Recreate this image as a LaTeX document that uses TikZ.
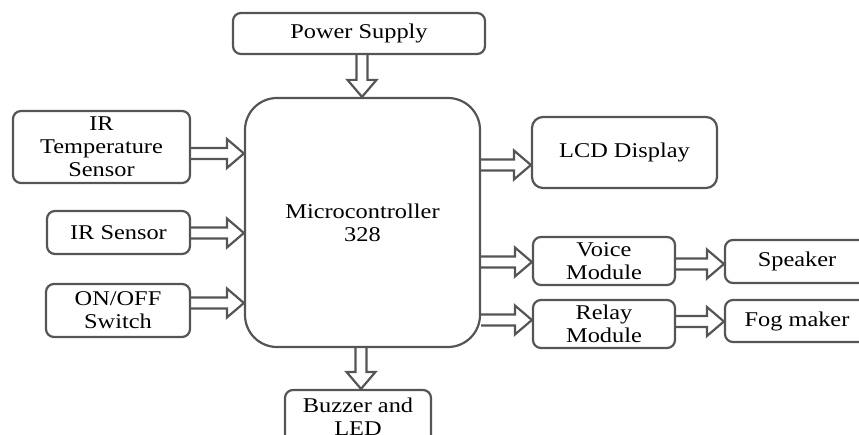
\documentclass[tikz,border=0pt]{standalone}
\usepackage{fontspec}
\setmainfont{Liberation Serif}[FakeStretch=1.16]
\usetikzlibrary{calc}
\definecolor{ln}{RGB}{85,85,85}
\tikzset{
  box/.style={draw=ln, line width=2.2pt, rounded corners=8pt, align=center, inner sep=0pt,
    font=\fontsize{21}{23}\selectfont, text=black},
  barrow/.style={draw=ln, line width=2.2pt, line join=miter},
}
\newcommand{\harr}[2]{\draw[barrow] let \p1=#1, \p2=#2 in
  (\x1,\y1+5.5pt) -- (\x2-17pt,\y1+5.5pt) -- (\x2-17pt,\y1+14.5pt) -- (\x2,\y1)
  -- (\x2-17pt,\y1-14.5pt) -- (\x2-17pt,\y1-5.5pt) -- (\x1,\y1-5.5pt);}
\newcommand{\varr}[2]{\draw[barrow] let \p1=#1, \p2=#2 in
  (\x1-5.5pt,\y1) -- (\x1-5.5pt,\y2+17pt) -- (\x1-14.5pt,\y2+17pt) -- (\x1,\y2)
  -- (\x1+14.5pt,\y2+17pt) -- (\x1+5.5pt,\y2+17pt) -- (\x1+5.5pt,\y1);}
\begin{document}
\begin{tikzpicture}[x=1pt,y=-1pt]
\useasboundingbox (0,0) rectangle (859,435);
\clip (0,0) rectangle (859,435);
\node[box, minimum width=252pt, minimum height=41pt] (ps) at (359,33.5) {Power Supply};
\node[box, rounded corners=32pt, minimum width=235pt, minimum height=249pt] (mc) at (362.5,222.5) {Microcontroller\\328};
\node[box, minimum width=177pt, minimum height=72pt] (irt) at (101.5,147) {IR\\Temperature\\Sensor};
\node[box, minimum width=143pt, minimum height=43pt] (irs) at (118.5,232.5) {IR Sensor};
\node[box, minimum width=144pt, minimum height=53pt] (onoff) at (118,310.5) {ON/OFF\\Switch};
\node[box, minimum width=146pt, minimum height=54pt] (buz) at (358,417) {Buzzer and\\LED};
\node[box, rounded corners=11pt, minimum width=185pt, minimum height=71pt] (lcd) at (624.5,152.5) {LCD Display};
\node[box, minimum width=142pt, minimum height=48pt] (voice) at (604,261) {Voice\\Module};
\node[box, minimum width=142pt, minimum height=48pt] (relay) at (604,324) {Relay\\Module};
\node[box, minimum width=144pt, minimum height=43pt] (spk) at (797,261.5) {Speaker};
\node[box, minimum width=144pt, minimum height=42pt] (fog) at (797,321) {Fog maker};
\varr{(ps.south -| 362,0)}{(mc.north -| 362,0)}
\varr{(mc.south -| 361,0)}{(buz.north -| 361,0)}
\harr{(irt.east |- 0,153.5)}{(mc.west |- 0,153.5)}
\harr{(irs.east |- 0,233)}{(mc.west |- 0,233)}
\harr{(onoff.east |- 0,303)}{(mc.west |- 0,303)}
\harr{(mc.east |- 0,165)}{(lcd.west |- 0,165)}
\harr{(mc.east |- 0,262)}{(voice.west |- 0,262)}
\harr{(mc.east |- 0,320)}{(relay.west |- 0,320)}
\harr{(voice.east |- 0,264)}{(spk.west |- 0,264)}
\harr{(relay.east |- 0,321.5)}{(fog.west |- 0,321.5)}
\end{tikzpicture}
\end{document}
